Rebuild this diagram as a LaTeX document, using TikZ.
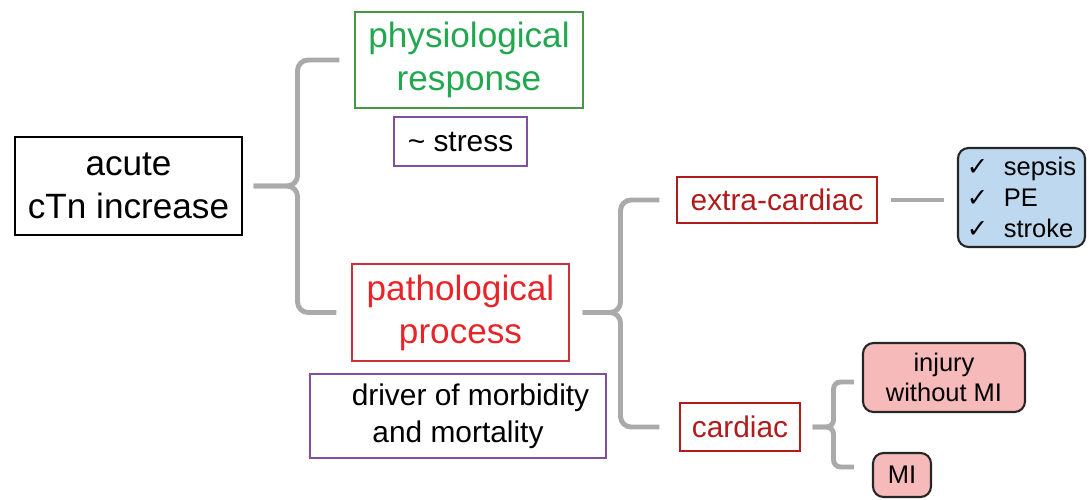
\documentclass[tikz,border=0pt]{standalone}
\usepackage{fontspec}
\setmainfont{Liberation Sans}
\newfontfamily\symfont{DejaVu Sans}
\usetikzlibrary{calc}

\definecolor{physgreen}{RGB}{33,168,78}
\definecolor{physframe}{RGB}{72,150,72}
\definecolor{pathred}{RGB}{232,36,40}
\definecolor{pathframe}{RGB}{200,50,56}
\definecolor{darkred}{RGB}{176,28,28}
\definecolor{notepurple}{RGB}{128,80,160}
\definecolor{bracegray}{RGB}{170,170,170}
\definecolor{listblue}{RGB}{190,216,240}
\definecolor{listrose}{RGB}{246,186,186}

\begin{document}
\begin{tikzpicture}[
	box/.style = {draw, inner sep = 0pt, align = center, line width = 0.6pt},
	bigbox/.style = {box, font = \fontsize{20}{24.5}\selectfont},
	smallbox/.style = {box, font = \fontsize{17}{21}\selectfont},
	listbox/.style = {box, rounded corners = 6pt, line width = 1.2pt, draw = black!85, font = \fontsize{14.5}{17.5}\selectfont},
	brace/.style = {draw = bracegray, line width = 2.8pt, rounded corners = 6pt}
	]

	% Page size (pixels of the reference times 0.02 cm)

	\useasboundingbox (0, 0) rectangle (21.78, -10);

	% Root

	\node [bigbox, minimum width = 4.54cm, minimum height = 1.96cm] (acute) at (2.57, -3.72) {acute\\cTn increase};

	% Upper branch: physiological response

	\node [bigbox, draw = physframe, text = physgreen, minimum width = 4.56cm, minimum height = 1.92cm] (phys) at (9.38, -1.2) {physiological\\response};
	\node [smallbox, draw = notepurple, minimum width = 2.66cm, minimum height = 0.98cm] (stress) at (9.21, -2.83) {\textasciitilde{} stress};

	% Lower branch: pathological process

	\node [bigbox, draw = pathframe, text = pathred, minimum width = 4.34cm, minimum height = 1.94cm] (patho) at (9.21, -6.25) {pathological\\process};
	\node [smallbox, draw = notepurple, minimum width = 5.92cm, minimum height = 1.68cm] (driver) at (9.16, -8.32) {\hspace{0.5cm}driver of morbidity\\and mortality};

	% Extra-cardiac and cardiac causes

	\node [smallbox, draw = darkred, text = darkred, minimum width = 4.0cm, minimum height = 0.92cm] (extra) at (15.54, -4.0) {extra-cardiac};
	\node [smallbox, draw = darkred, text = darkred, minimum width = 2.4cm, minimum height = 0.96cm] (cardiac) at (14.8, -8.54) {cardiac};

	% Leaves

	\node [listbox, fill = listblue, align = left, minimum width = 2.54cm, minimum height = 1.98cm] (causes) at (20.43, -3.95) {{\symfont ✓}\,\, sepsis\\{\symfont ✓}\,\, PE\\{\symfont ✓}\,\, stroke};
	\node [listbox, fill = listrose, minimum width = 3.24cm, minimum height = 1.38cm] (injury) at (18.88, -7.55) {injury\\without MI};
	\node [listbox, fill = listrose, minimum width = 1.16cm, minimum height = 0.88cm] (mi) at (18.04, -9.5) {MI};

	% Braces

	\draw [brace] ([xshift = 0.22cm] acute.east) -- ++(0.88, 0) |- ([xshift = -0.3cm] phys.west);
	\draw [brace] ([xshift = 0.22cm] acute.east) -- ++(0.88, 0) |- ([xshift = -0.3cm] patho.west);

	\draw [brace] ([xshift = 0.26cm] patho.east) -- ++(0.76, 0) |- ([xshift = -0.34cm] extra.west);
	\draw [brace] ([xshift = 0.26cm] patho.east) -- ++(0.76, 0) |- ([xshift = -0.4cm] cardiac.west);

	\draw [brace] ([xshift = 0.26cm] extra.east) -- ([xshift = -0.26cm] extra.east -| causes.west);

	\draw [brace, rounded corners = 4pt] ([xshift = 0.24cm] cardiac.east) -- ++(0.42, 0) |- ([xshift = -0.16cm, yshift = -0.09cm] injury.west);
	\draw [brace, rounded corners = 4pt] ([xshift = 0.24cm] cardiac.east) -- ++(0.42, 0) |- ([xshift = -0.36cm, yshift = 0.16cm] mi.west);

\end{tikzpicture}
\end{document}
